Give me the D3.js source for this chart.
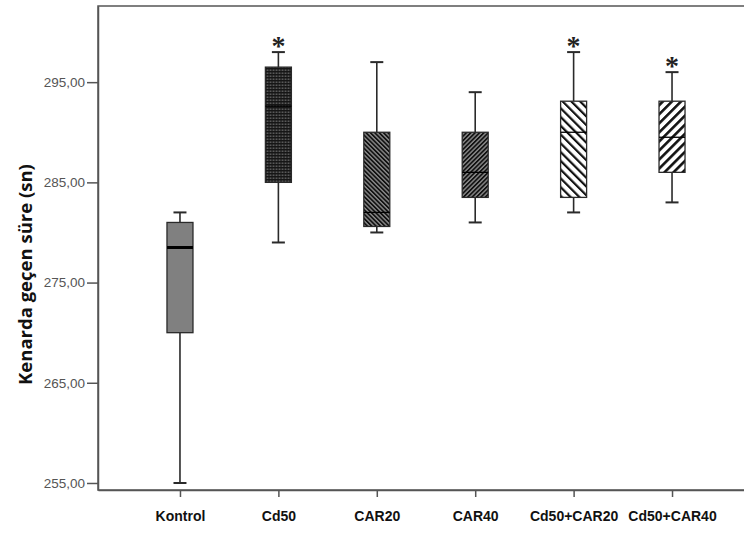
<!DOCTYPE html>
<html>
<head>
<meta charset="utf-8">
<script src="https://cdn.jsdelivr.net/npm/d3@7/dist/d3.min.js"></script>
<style>
  html, body { margin: 0; padding: 0; background: #fff; }
  svg { display: block; }
</style>
</head>
<body>
<svg id="chart" width="744" height="540"></svg>
<script>
// ---- data ----
const categories = ["Kontrol", "Cd50", "CAR20", "CAR40", "Cd50+CAR20", "Cd50+CAR40"];
const mins    = [255.0, 279.0, 280.0, 281.0, 282.0, 283.0];
const q1s     = [270.0, 285.0, 280.6, 283.5, 283.5, 286.0];
const medians = [278.5, 292.6, 282.0, 286.0, 290.0, 289.5];
const q3s     = [281.0, 296.5, 290.0, 290.0, 293.1, 293.1];
const maxs    = [282.0, 298.0, 297.0, 294.0, 298.0, 296.0];
const significant = [false, true, false, false, true, true];
const yTicks = [255, 265, 275, 285, 295];
const yTitle = "Kenarda geçen süre (sn)";

const fills = ["#808080", "url(#pDots)", "url(#pBackDense)", "url(#pFwdDense)", "url(#pBackWide)", "url(#pFwdWide)"];

const svg = d3.select("#chart");
const L = 98, R = 754, T = 6, B = 490;

// patterns
const defs = svg.append("defs");
function stripe(id, period, black, bg, fg, angle) {
  const p = defs.append("pattern").attr("id", id)
    .attr("patternUnits", "userSpaceOnUse")
    .attr("width", period).attr("height", period)
    .attr("patternTransform", `rotate(${angle})`);
  p.append("rect").attr("width", period).attr("height", period).attr("fill", bg);
  p.append("rect").attr("width", black).attr("height", period).attr("fill", fg);
}
stripe("pBackDense", 3.1, 1.7, "#8a8a8a", "#111", -45);
stripe("pFwdDense", 3.1, 1.7, "#8a8a8a", "#111", 45);
stripe("pBackWide", 6.2, 2.2, "#fff", "#111", -45);
stripe("pFwdWide", 6.4, 2.6, "#fff", "#111", 45);
const pd = defs.append("pattern").attr("id", "pDots")
  .attr("patternUnits", "userSpaceOnUse").attr("width", 3).attr("height", 3);
pd.append("rect").attr("width", 3).attr("height", 3).attr("fill", "#161616");
pd.append("rect").attr("x", 0.5).attr("y", 0.5).attr("width", 1.4).attr("height", 1.4).attr("fill", "#7a7a7a");

// scales
const x = d3.scalePoint().domain(categories).range([L, R]).padding(0.833);
const y = d3.scaleLinear().domain([254.3, 302.6]).range([B, T]);
const bw = 26, capW = 13;

// frame
svg.append("rect").attr("x", L).attr("y", T).attr("width", R - L).attr("height", B - T)
  .attr("fill", "none").attr("stroke", "#555").attr("stroke-width", 1.5);

// y axis
const yAxis = d3.axisLeft(y).tickValues(yTicks).tickSizeInner(11).tickSizeOuter(0).tickPadding(2)
  .tickFormat(d => d3.format(".2f")(d).replace(".", ","));
const gy = svg.append("g").attr("transform", `translate(${L},0)`).call(yAxis);
gy.select(".domain").attr("stroke", "#555").attr("stroke-width", 1.5);
gy.selectAll(".tick line").attr("stroke", "#555").attr("stroke-width", 1.5);
gy.selectAll(".tick text").attr("fill", "#555").attr("font-family", "Liberation Sans, Arial, sans-serif")
  .attr("font-size", 13.5);

// x axis
const xAxis = d3.axisBottom(x).tickSizeInner(7).tickSizeOuter(0).tickPadding(14);
const gx = svg.append("g").attr("transform", `translate(0,${B})`).call(xAxis);
gx.select(".domain").attr("stroke", "#555").attr("stroke-width", 1.5);
gx.selectAll(".tick line").attr("stroke", "#555").attr("stroke-width", 1.5);
gx.selectAll(".tick text").attr("fill", "#111").attr("font-family", "Liberation Sans, Arial, sans-serif")
  .attr("font-size", 14).attr("font-weight", "bold");

// y title
svg.append("text")
  .attr("transform", `translate(32,${(y(255) + y(295)) / 2 - 8}) rotate(-90)`)
  .attr("text-anchor", "middle")
  .attr("font-family", "Open Sans, Lato, sans-serif")
  .attr("font-weight", "bold").attr("font-size", 18.5).attr("fill", "#111")
  .text(yTitle);

// boxes
const boxes = categories.map((c, i) => ({c, i, min: mins[i], q1: q1s[i], med: medians[i], q3: q3s[i], max: maxs[i], sig: significant[i]}));
const g = svg.append("g");
const bx = g.selectAll("g.box").data(boxes).join("g").attr("class", "box")
  .attr("transform", d => `translate(${x(d.c)},0)`);

const stroke = "#2a2a2a";
bx.append("line").attr("x1", 0).attr("x2", 0).attr("y1", d => y(d.max)).attr("y2", d => y(d.q3))
  .attr("stroke", stroke).attr("stroke-width", 1.6);
bx.append("line").attr("x1", 0).attr("x2", 0).attr("y1", d => y(d.q1)).attr("y2", d => y(d.min))
  .attr("stroke", stroke).attr("stroke-width", 1.6);
bx.append("line").attr("x1", -capW / 2).attr("x2", capW / 2).attr("y1", d => y(d.max)).attr("y2", d => y(d.max))
  .attr("stroke", stroke).attr("stroke-width", 2);
bx.append("line").attr("x1", -capW / 2).attr("x2", capW / 2).attr("y1", d => y(d.min)).attr("y2", d => y(d.min))
  .attr("stroke", stroke).attr("stroke-width", 2);
bx.append("rect").attr("x", -bw / 2).attr("width", bw)
  .attr("y", d => y(d.q3)).attr("height", d => y(d.q1) - y(d.q3))
  .attr("fill", d => fills[d.i]).attr("stroke", stroke).attr("stroke-width", 1.3);
bx.append("line").attr("x1", -bw / 2).attr("x2", bw / 2).attr("y1", d => y(d.med)).attr("y2", d => y(d.med))
  .attr("stroke", "#000").attr("stroke-width", d => d.i === 0 ? 3 : 1.3);
bx.filter(d => d.sig).append("text")
  .attr("x", 0).attr("y", d => y(d.max) + 3)
  .attr("text-anchor", "middle")
  .attr("font-family", "Liberation Serif, Times New Roman, serif")
  .attr("font-weight", "bold")
  .attr("font-size", 28).attr("fill", "#222")
  .text("*");
</script>
</body>
</html>
